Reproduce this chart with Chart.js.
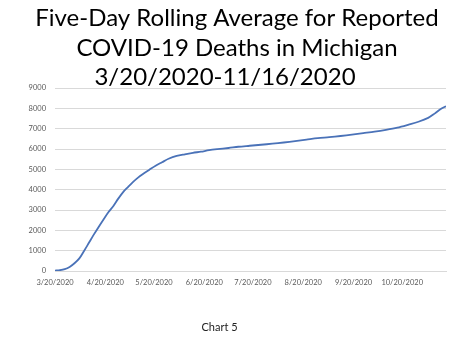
<!DOCTYPE html>
<html>
<head>
<meta charset="utf-8">
<script src="https://cdn.jsdelivr.net/npm/chart.js@4/dist/chart.umd.min.js"></script>
<style>
html,body{margin:0;padding:0;background:#fff;}
#wrap{width:474px;height:355px;position:relative;}
</style>
</head>
<body>
<div id="wrap"><canvas id="c" width="474" height="355"></canvas></div>
<script>
// Data (days since 3/20/2020, cumulative deaths, 5-day avg)
const days   = [0, 3, 6, 9, 12, 15, 18, 21, 24, 27, 30, 33, 36, 39, 42, 45, 48, 51, 54, 58, 62, 66, 70, 75, 80, 85, 90, 95, 100, 107, 113, 120, 127, 134, 141, 148, 155, 162, 169, 176, 183, 190, 197, 204, 211, 218, 224, 230, 234, 238, 241];
const deaths = [20, 40, 90, 200, 380, 620, 1000, 1400, 1800, 2180, 2550, 2900, 3200, 3560, 3880, 4130, 4370, 4580, 4760, 4970, 5180, 5350, 5520, 5660, 5740, 5810, 5870, 5940, 5990, 6050, 6110, 6160, 6210, 6260, 6320, 6390, 6460, 6530, 6580, 6640, 6710, 6780, 6850, 6940, 7050, 7200, 7340, 7530, 7740, 7980, 8100];
const tickDays   = [0, 31, 61, 92, 122, 153, 184, 214];
const tickLabels = ["3/20/2020", "4/20/2020", "5/20/2020", "6/20/2020", "7/20/2020", "8/20/2020", "9/20/2020", "10/20/2020"];
const titleLines = ["Five-Day Rolling Average for Reported", "COVID-19 Deaths in Michigan", "3/20/2020-11/16/2020"];
const footnote = "Chart 5";

const points = days.map((d, i) => ({x: d, y: deaths[i]}));

const textPlugin = {
  id: 'textPlugin',
  afterDraw(chart) {
    const ctx = chart.ctx;
    ctx.save();
    ctx.fillStyle = '#000';
    ctx.textAlign = 'center';
    ctx.textBaseline = 'alphabetic';
    ctx.font = '24px Lato';
    const xs = [237, 237, 225];
    const ys = [26, 56, 85];
    titleLines.forEach((t, i) => ctx.fillText(t, xs[i], ys[i]));
    ctx.font = '11px Lato';
    ctx.fillStyle = '#222';
    ctx.fillText(footnote, 219.5, 331);
    ctx.restore();
  }
};

new Chart(document.getElementById('c'), {
  type: 'line',
  data: {
    datasets: [{
      data: points,
      borderColor: '#4a72b8',
      borderWidth: 1.8,
      pointRadius: 0,
      tension: 0.3,
      fill: false
    }]
  },
  options: {
    responsive: false,
    animation: false,
    devicePixelRatio: 1,
    layout: {padding: {top: 88, right: 28, bottom: 64, left: 0}},
    plugins: {legend: {display: false}, title: {display: false}, tooltip: {enabled: false}},
    scales: {
      x: {
        type: 'linear',
        min: 0,
        max: 241,
        grid: {display: false, drawTicks: false},
        border: {display: true, color: '#d9d9d9'},
        afterBuildTicks(scale) { scale.ticks = tickDays.map(v => ({value: v})); },
        afterFit(scale) { scale.height = 20; },
        ticks: {
          autoSkip: false,
          maxRotation: 0,
          padding: 7,
          color: '#595959',
          font: {family: 'Lato', size: 7.5},
          callback(v) { const i = tickDays.indexOf(v); return i >= 0 ? tickLabels[i] : ''; }
        }
      },
      y: {
        min: 0,
        max: 9000,
        grid: {color: '#d9d9d9', drawTicks: false},
        border: {display: false},
        afterFit(scale) { scale.width = 55; },
        ticks: {
          stepSize: 1000,
          padding: 9,
          color: '#595959',
          font: {family: 'Lato', size: 7.5},
          callback(v) { return String(v); }
        }
      }
    }
  },
  plugins: [textPlugin]
});
</script>
</body>
</html>
